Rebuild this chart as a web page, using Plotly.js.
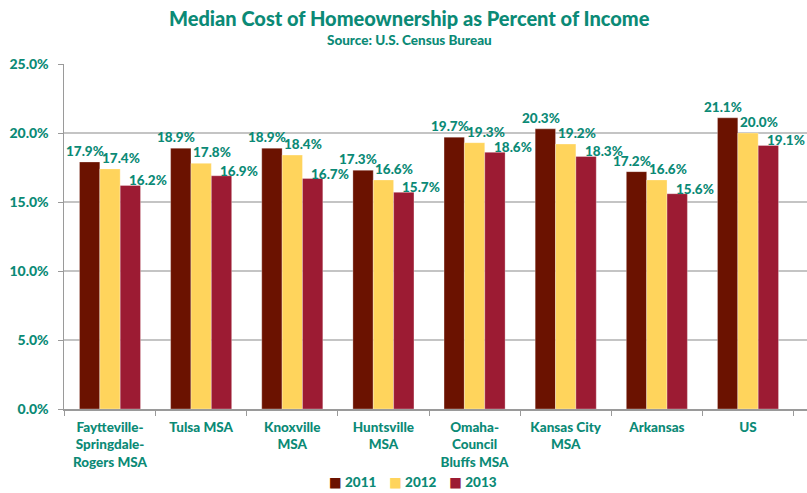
<!DOCTYPE html>
<html>
<head>
<meta charset="utf-8">
<script src="https://cdn.plot.ly/plotly-3.0.1.min.js"></script>
<style>html,body{margin:0;padding:0;background:#fff;}#chart{width:807px;height:493px;}</style>
</head>
<body>
<div id="chart"></div>
<script>
const categories = [
  "Faytteville-<br>Springdale-<br>Rogers MSA",
  "Tulsa MSA",
  "Knoxville<br>MSA",
  "Huntsville<br>MSA",
  "Omaha-<br>Council<br>Bluffs MSA",
  "Kansas City<br>MSA",
  "Arkansas",
  "US"
];
const seriesNames = ["2011", "2012", "2013"];
const values2011 = [17.9, 18.9, 18.9, 17.3, 19.7, 20.3, 17.2, 21.1];
const values2012 = [17.4, 17.8, 18.4, 16.6, 19.3, 19.2, 16.6, 20.0];
const values2013 = [16.2, 16.9, 16.7, 15.7, 18.6, 18.3, 15.6, 19.1];
const yTicks = [0, 5, 10, 15, 20, 25];

const colors = ["#6b1200", "#ffd45c", "#9c1b33"];
const teal = "#0b8a76";
const font = "Lato, 'Open Sans', sans-serif";
const allValues = [values2011, values2012, values2013];

const traces = allValues.map((vals, i) => ({
  type: "bar",
  name: seriesNames[i],
  x: categories,
  y: vals,
  marker: {color: colors[i], line: {color: "rgba(255,255,255,0.5)", width: 0.6}},
  hoverinfo: "skip",
  showlegend: false
}));

const xShifts = [-25, 11, 38];
const yShifts = [1, 1, -5];
const annotations = [];
allValues.forEach((vals, i) => {
  vals.forEach((v, j) => {
    annotations.push({
      x: categories[j], y: v, xref: "x", yref: "y",
      text: v.toFixed(1) + "%",
      showarrow: false, xanchor: "center", yanchor: "bottom",
      xshift: xShifts[i], yshift: yShifts[i],
      font: {family: font, size: 13.5, color: teal, weight: 900}
    });
  });
});
annotations.push({
  xref: "paper", yref: "paper", x: 0.465, y: 1.133, xanchor: "center", yanchor: "middle",
  text: "Median Cost of Homeownership as Percent of Income", showarrow: false,
  font: {family: font, size: 20, color: teal, weight: 900}
});
annotations.push({
  xref: "paper", yref: "paper", x: 0.465, y: 1.07, xanchor: "center", yanchor: "middle",
  text: "Source: U.S. Census Bureau", showarrow: false,
  font: {family: font, size: 13.5, color: teal, weight: 900}
});
// legend drawn as text
const legendText = seriesNames.map((n, i) =>
  "<span style='color:" + colors[i] + ";font-family:DejaVu Sans'>■</span> " + n
).join("    ");
annotations.push({
  xref: "paper", yref: "paper", x: 0.47, y: -0.213, xanchor: "center", yanchor: "middle",
  text: legendText, showarrow: false, borderpad: 0,
  font: {family: font, size: 13.5, color: teal, weight: 900}
});

const layout = {
  width: 807, height: 493,
  margin: {l: 64, r: 0, t: 64, b: 84},
  paper_bgcolor: "#fff", plot_bgcolor: "#fff",
  barmode: "group", bargap: 0.33, bargroupgap: 0,
  showlegend: false,
  xaxis: {
    type: "category", automargin: false,
    showline: true, linecolor: "#9a9a9a", linewidth: 1.5,
    ticks: "outside", tickson: "boundaries", ticklen: 5, tickcolor: "#9a9a9a",
    ticklabelstandoff: 5,
    tickfont: {family: font, size: 13.5, color: teal, weight: 900},
    showgrid: false
  },
  yaxis: {
    range: [0, 25], tickvals: yTicks, automargin: false,
    ticktext: yTicks.map(t => t.toFixed(1) + "%"),
    showline: true, linecolor: "#9a9a9a", linewidth: 1.5,
    ticks: "outside", ticklen: 5, tickcolor: "#9a9a9a",
    ticklabelstandoff: 6,
    showgrid: true, gridcolor: "#c4c4c4", gridwidth: 1.5,
    zeroline: false,
    tickfont: {family: font, size: 14, color: teal, weight: 900}
  },
  annotations: annotations
};

Plotly.newPlot("chart", traces, layout, {displayModeBar: false, staticPlot: true});
</script>
</body>
</html>
